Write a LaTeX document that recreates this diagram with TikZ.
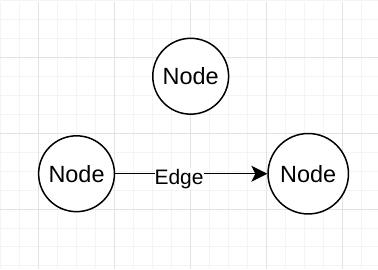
\documentclass[tikz,border=0pt]{standalone}
\usepackage{fontspec}
\setmainfont{Liberation Sans}
\usetikzlibrary{arrows.meta,positioning}
\definecolor{gridminor}{HTML}{F4F4F4}
\definecolor{gridmajor}{HTML}{E2E2E2}

\begin{document}
\begin{tikzpicture}[x=1pt, y=-1pt,
  state/.style={draw, circle, line width=1.5pt, minimum size=76pt, inner sep=0pt, fill=white, font=\fontsize{23.5}{27}\selectfont},
  edgelabel/.style={fill=white, inner xsep=0pt, inner ysep=1pt, font=\fontsize{21}{25}\selectfont},
  arrow/.style={-{Stealth[length=16pt, width=16pt, inset=4pt]}, line width=1.5pt}
]
  % Background grid
  \fill[white] (0,0) rectangle (378,267);
  \foreach \k in {0,...,19}
    \draw[gridminor, line width=0.8pt] ({0.5+19*\k},0) -- ({0.5+19*\k},267);
  \foreach \k in {0,...,14}
    \draw[gridminor, line width=0.8pt] (0,{-2+19*\k}) -- (378,{-2+19*\k});
  \foreach \k in {0,...,4}
    \draw[gridmajor, line width=0.8pt] ({38.5+76*\k},0) -- ({38.5+76*\k},267);
  \foreach \k in {0,...,2}
    \draw[gridmajor, line width=0.8pt] (0,{55+76*\k}) -- (378,{55+76*\k});

  % Nodes
  \node[state] (left) at (76.3,171.7) {Node};
  \node[state, minimum size=80.6pt, right=152.4pt of left] (right) {Node};
  \node[state] (top) at (190.7,74) {Node};

  % Edge
  \draw[arrow] (left) -- node[edgelabel, pos=0.42, yshift=-5pt] {Edge} (right);
\end{tikzpicture}
\end{document}
